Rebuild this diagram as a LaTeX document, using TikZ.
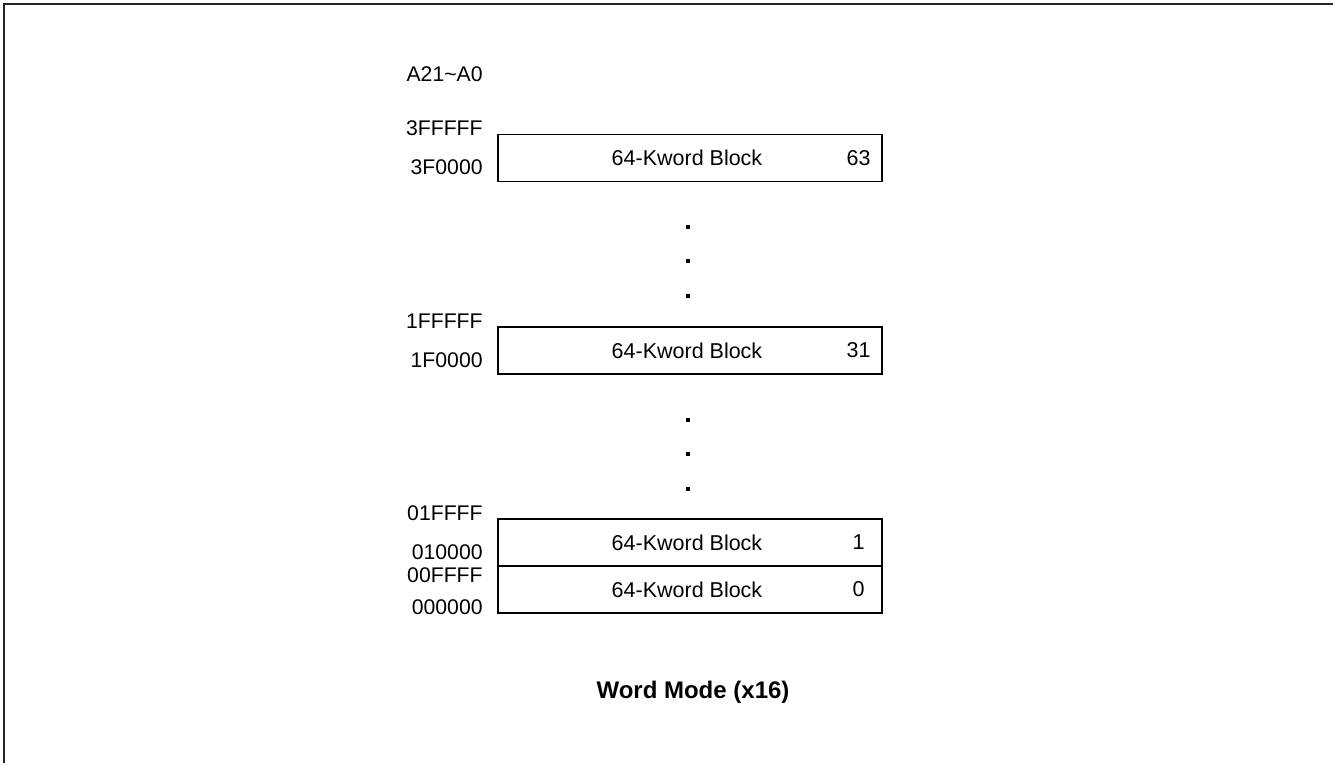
\documentclass[tikz,border=0pt]{standalone}
\usepackage{fontspec}
\setmainfont{Liberation Sans}
\usetikzlibrary{calc,positioning}

\begin{document}
\begin{tikzpicture}[x=0.5pt,y=-0.5pt]
\tikzset{
  blk/.style={draw, line width=0.65pt, minimum width=192pt, minimum height=23.5pt, inner sep=0pt,
    font=\fontsize{10.75}{12}\selectfont},
  blknum/.style={font=\fontsize{10.75}{12}\selectfont},
  addr/.style={anchor=east, inner sep=0pt, font=\fontsize{10.6}{12}\selectfont},
  sqdot/.style={fill=black, minimum size=2pt, inner sep=0pt},
}
\useasboundingbox (0,0) rectangle (1333,763);
\draw [line width=1pt, black!85] (4,763) -- (4,4) -- (1333,4);

% blocks
\node[blk] (blk63) at (690,158) {\hspace*{-3pt}64-Kword Block};
\node[blk] (blk31) at (690,350.5) {\hspace*{-3pt}64-Kword Block};
\node[blk] (blk1) at (690,542.5) {\hspace*{-3pt}64-Kword Block};
\node[blk] (blk0) at (690,589.5) {\hspace*{-3pt}64-Kword Block};

\node[blknum] at ($(blk63.east) + (-24,0)$) {63};
\node[blknum] at ($(blk31.east) + (-24,0)$) {31};
\node[blknum] at ($(blk1.east) + (-24,0)$) {1};
\node[blknum] at ($(blk0.east) + (-24,0)$) {0};

% addresses
\node[addr] (hdr) at (483,74) {A21\textasciitilde A0};
\node[addr] at (483,128) {3FFFFF};
\node[addr] at (483,167) {3F0000};
\node[addr] at (483,321) {1FFFFF};
\node[addr] at (483,360) {1F0000};
\node[addr] at (483,513) {01FFFF};
\node[addr] at (483,552) {010000};
\node[addr] at (483,575) {00FFFF};
\node[addr] at (483,607) {000000};

% gaps
\foreach \y in {227,261,296,420,454,489}
  \node[sqdot] at (688,\y) {};

\node[font=\bfseries\fontsize{12}{14}\selectfont] (title) at (693,692) {Word Mode (x16)};
\end{tikzpicture}
\end{document}
